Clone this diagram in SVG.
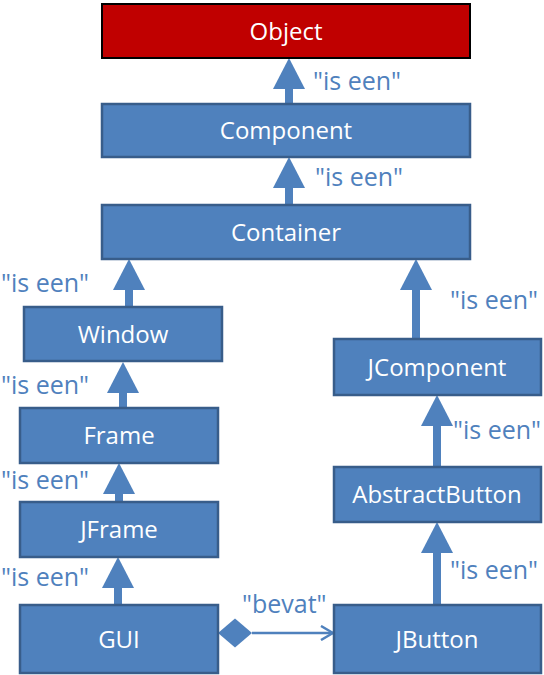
<svg xmlns="http://www.w3.org/2000/svg" width="544" height="675" viewBox="0 0 544 675">
<style>
.node rect{fill:#4F81BD;stroke:#385D8A;stroke-width:2.5}
.node text{fill:#fff;font-family:"Open Sans","Liberation Sans",sans-serif;font-size:24px;text-anchor:middle}
#object rect{fill:#C00000;stroke:#000;stroke-width:2}
.isa{stroke:#4F81BD;stroke-width:8;fill:none;marker-end:url(#tri)}
.lbl{fill:#4F81BD;font-family:"Open Sans","Liberation Sans",sans-serif;font-size:25px}
</style>
<defs>
<marker id="tri" markerUnits="userSpaceOnUse" viewBox="0 0 31 32" refX="0" refY="16" markerWidth="31" markerHeight="32" orient="auto">
<path d="M0,0 L31,16 L0,32 Z" fill="#4F81BD"/>
</marker>
<marker id="open" markerUnits="userSpaceOnUse" viewBox="0 0 14 16" refX="13" refY="8" markerWidth="14" markerHeight="16" orient="auto">
<path d="M1,1 L13,8 L1,15" fill="none" stroke="#4F81BD" stroke-width="2.5"/>
</marker>
</defs>
<g id="connectors">
<line class="isa" x1="289" y1="104" x2="289" y2="89"/>
<line class="isa" x1="289" y1="205" x2="289" y2="188"/>
<line class="isa" x1="129" y1="307" x2="129" y2="290"/>
<line class="isa" x1="123" y1="408" x2="123" y2="393"/>
<line class="isa" x1="119" y1="502" x2="119" y2="494"/>
<line class="isa" x1="118" y1="605" x2="118" y2="588"/>
<line class="isa" x1="416" y1="339" x2="416" y2="290"/>
<line class="isa" x1="437" y1="467" x2="437" y2="426"/>
<line class="isa" x1="437" y1="605" x2="437" y2="553"/>
<path d="M218,633 L235,618.5 L252,633 L235,647.5 Z" fill="#4F81BD"/>
<line x1="252" y1="633" x2="333" y2="633" stroke="#4F81BD" stroke-width="2.5" marker-end="url(#open)"/>
<text class="lbl" x="313" y="90">"is een"</text>
<text class="lbl" x="315" y="186">"is een"</text>
<text class="lbl" x="1" y="292">"is een"</text>
<text class="lbl" x="1" y="394">"is een"</text>
<text class="lbl" x="1" y="489">"is een"</text>
<text class="lbl" x="1" y="586">"is een"</text>
<text class="lbl" x="450" y="309">"is een"</text>
<text class="lbl" x="453" y="439">"is een"</text>
<text class="lbl" x="450" y="579">"is een"</text>
<text class="lbl" x="242" y="613">"bevat"</text>
</g>
<g id="object" class="node"><rect x="102" y="4" width="368" height="54"/><text x="286" y="40">Object</text></g>
<g id="component" class="node"><rect x="102" y="104" width="368" height="53"/><text x="286" y="139">Component</text></g>
<g id="container" class="node"><rect x="102" y="205" width="368" height="54"/><text x="286" y="241">Container</text></g>
<g id="window" class="node"><rect x="24" y="307" width="198" height="54"/><text x="123" y="343">Window</text></g>
<g id="frame" class="node"><rect x="20" y="408" width="198" height="55"/><text x="119" y="444">Frame</text></g>
<g id="jframe" class="node"><rect x="20" y="502" width="198" height="55"/><text x="119" y="538">JFrame</text></g>
<g id="gui" class="node"><rect x="20" y="605" width="198" height="68"/><text x="119" y="648">GUI</text></g>
<g id="jcomponent" class="node"><rect x="334" y="339" width="207" height="56"/><text x="437" y="376">JComponent</text></g>
<g id="abstractbutton" class="node"><rect x="334" y="467" width="207" height="55"/><text x="437" y="503">AbstractButton</text></g>
<g id="jbutton" class="node"><rect x="334" y="605" width="207" height="68"/><text x="437" y="648">JButton</text></g>
</svg>
